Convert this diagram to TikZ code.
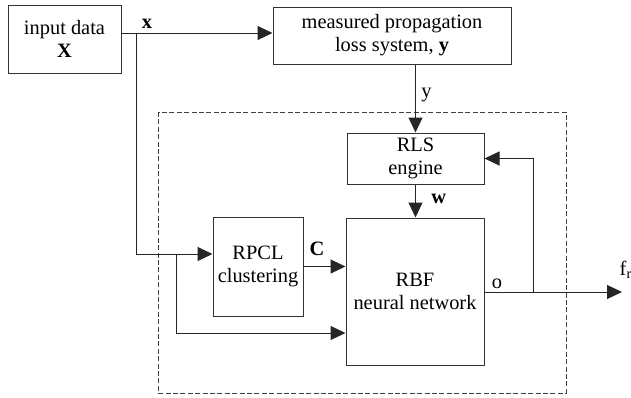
\documentclass[tikz,border=0pt]{standalone}
\usepackage{fontspec}
\setmainfont{Liberation Serif}
\usetikzlibrary{arrows.meta}

\tikzset{
  block/.style={draw=black!80, line width=0.5pt, align=center, inner sep=0pt,
    font=\fontsize{10.2}{11.5}\selectfont},
  arr/.style={draw=black!85, line width=0.5pt, -{Triangle[length=7.5pt,width=7pt]}},
  wire/.style={draw=black!85, line width=0.5pt},
  lbl/.style={font=\fontsize{10.2}{11.5}\selectfont, inner sep=0pt}
}

\begin{document}
\begin{tikzpicture}[x=0.5pt, y=-0.5pt]
    \useasboundingbox (0,0) rectangle (631,397);

    % Dashed frame round the estimator
    \draw[black!75, line width=0.5pt, dash pattern=on 2.5pt off 1.2pt] (158,112) rectangle (566,393);

    % Blocks
    \node[block, minimum width=56.5pt, minimum height=34pt] (input) at (64.5,39) {input data\\ \textbf{X}};
    \node[block, minimum width=119pt, minimum height=28.5pt] (meas) at (392,35.5) {measured propagation\\ loss system, \textbf{y}};
    \node[block, minimum width=68.5pt, minimum height=25.5pt] (rls) at (415.5,158.5) {RLS\\ engine};
    \node[block, minimum width=45pt, minimum height=49.5pt] (rpcl) at (258,266.5) {RPCL\\ clustering};
    \node[block, minimum width=69pt, minimum height=73.5pt] (rbf) at (415,291.5) {RBF\\ neural network};

    % Branch points
    \coordinate (split) at (136,33);
    \coordinate (fork) at (176,254);
    \coordinate (low) at (176,333);
    \coordinate (tap) at (533,292);
    \coordinate (out) at (622,292);

    % Input to the system and to the clustering
    \draw[arr] (input.east |- split) -- (meas.west |- split);
    \draw[arr] (split) |- (rpcl.west |- fork);
    \draw[arr] (fork) -- (low) -- (rbf.west |- low);
    \node[lbl] (xlbl) at (147,24) {\textbf{x}};

    % Target and weights
    \draw[arr] (rls.north |- meas.south) -- (rls.north);
    \node[lbl, anchor=west] (ylbl) at (421,95) {y};
    \draw[arr] (rls.south) -- (rls.south |- rbf.north);
    \node[lbl, anchor=west] (wlbl) at (431,199) {\textbf{w}};

    % Centres
    \draw[arr] (rpcl.east) -- (rbf.west |- rpcl.east);
    \node[lbl] (clbl) at (317,249) {\textbf{C}};

    % Output and feedback
    \draw[arr] (rbf.east |- out) -- (out);
    \draw[arr] (tap) |- (rls.east);
    \node[lbl] (olbl) at (497,284) {o};
    \node[lbl] (flbl) at (626,270) {f\textsubscript{r}};
\end{tikzpicture}
\end{document}
